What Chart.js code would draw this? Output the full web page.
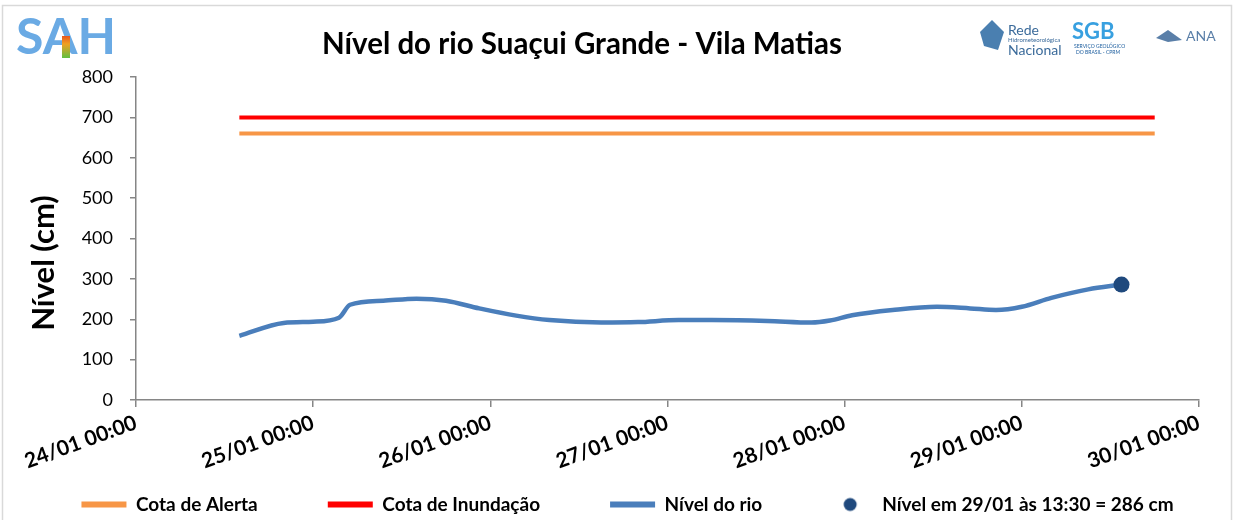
<!DOCTYPE html>
<html><head><meta charset="utf-8">
<script src="https://cdn.jsdelivr.net/npm/chart.js@4"></script>
<style>html,body{margin:0;padding:0;background:#fff}#wrap{width:1234px;height:520px;position:relative}</style>
</head><body><div id="wrap"><canvas id="c" width="1234" height="520"></canvas></div>
<script>
const FONT = "Lato, 'Liberation Sans', sans-serif";

// Hours counted from 24/01 00:00
const riverHours = [14, 20, 24, 27.5, 29, 33.5, 38, 42, 46.5, 51.5, 56, 63, 68, 73.5, 78, 85.5, 91.5, 94, 97, 102.5, 108.5, 113, 116.5, 120, 124, 129, 133.5];
const riverLevel = [159, 191, 194, 204, 236, 246, 251, 246, 227, 209, 198, 192, 193, 198, 198, 196, 192, 197, 210, 223, 231, 227, 223, 231, 253, 274, 286];
const thresholdHours = [14, 138];
const alertLevel = [660, 660];
const floodLevel = [700, 700];
const lastHour = [133.5];
const lastLevel = [286];
const dayTickLabels = ['24/01 00:00', '25/01 00:00', '26/01 00:00', '27/01 00:00', '28/01 00:00', '29/01 00:00', '30/01 00:00'];
const seriesNames = ['Cota de Alerta', 'Cota de Inundação', 'Nível do rio', 'Nível em 29/01 às 13:30 = 286 cm'];
const titleText = 'Nível do rio Suaçui Grande - Vila Matias';
const yTitleText = 'Nível (cm)';

const pts = (xs, ys) => xs.map((x, i) => ({x: x, y: ys[i]}));
const legendGap = [13, 13, 12, 0]; // trailing spaces after each legend text

const dotImg = document.createElement('canvas');
dotImg.width = 16; dotImg.height = 16;
{ const g = dotImg.getContext('2d'); g.fillStyle = '#1f497d'; g.beginPath(); g.arc(8, 8, 6.5, 0, Math.PI * 2); g.fill(); }

const decor = {
  id: 'decor',
  afterDraw(chart) {
    const ctx = chart.ctx;
    ctx.save();
    ctx.strokeStyle = '#d9d9d9'; ctx.lineWidth = 1.5;
    ctx.strokeRect(2.5, 5.5, 1229, 530);
    ctx.fillStyle = '#000';
    ctx.font = "bold 29.5px " + FONT;
    ctx.textAlign = 'center'; ctx.textBaseline = 'middle';
    ctx.fillText(titleText, 582, 44);
    ctx.save();
    ctx.translate(44, 263);
    ctx.rotate(-Math.PI / 2);
    ctx.font = "bold 31px " + FONT;
    ctx.fillText(yTitleText, 0, 0);
    ctx.restore();
    // SAH logo
    ctx.font = "bold 50px " + FONT;
    ctx.textAlign = 'left';
    ctx.fillStyle = '#6aaae4';
    ctx.fillText('SAH', 16, 38);
    const gr = ctx.createLinearGradient(0, 30, 0, 58);
    gr.addColorStop(0, '#e02020'); gr.addColorStop(0.5, '#f0a020'); gr.addColorStop(1, '#60c040');
    ctx.fillStyle = gr; ctx.fillRect(62, 36, 8, 22);
    // right logos
    ctx.fillStyle = '#4a7fb0';
    ctx.beginPath(); ctx.moveTo(980, 32); ctx.lineTo(992, 20); ctx.lineTo(1004, 32); ctx.lineTo(998, 50); ctx.lineTo(984, 46); ctx.closePath(); ctx.fill();
    ctx.fillStyle = '#3a6a9a';
    ctx.font = "14px " + FONT;
    ctx.fillText('Rede', 1008, 30);
    ctx.fillText('Nacional', 1008, 50);
    ctx.font = "6px " + FONT;
    ctx.fillText('Hidrometeorológica', 1008, 40);
    ctx.font = "bold 22px " + FONT;
    ctx.fillStyle = '#38a0e0';
    ctx.fillText('SGB', 1072, 32);
    ctx.font = "5px " + FONT;
    ctx.fillStyle = '#2060a0';
    ctx.fillText('SERVIÇO GEOLÓGICO', 1074, 46);
    ctx.fillText('DO BRASIL - CPRM', 1076, 52);
    ctx.font = "14px " + FONT;
    ctx.fillStyle = '#5a7fa8';
    ctx.fillText('ANA', 1186, 36);
    ctx.beginPath(); ctx.moveTo(1156, 38); ctx.lineTo(1168, 30); ctx.lineTo(1182, 40); ctx.lineTo(1168, 42); ctx.closePath(); ctx.fill();
    ctx.restore();
  }
};

new Chart(document.getElementById('c'), {
  type: 'line',
  data: {
    datasets: [
      {label: seriesNames[0], data: pts(thresholdHours, alertLevel), borderColor: '#f79646', backgroundColor: '#f79646', borderWidth: 4, pointRadius: 0, pointStyle: 'line', order: 3},
      {label: seriesNames[1], data: pts(thresholdHours, floodLevel), borderColor: '#ff0000', backgroundColor: '#ff0000', borderWidth: 4, pointRadius: 0, pointStyle: 'line', order: 2},
      {label: seriesNames[2], data: pts(riverHours, riverLevel), borderColor: '#4a7ebb', backgroundColor: '#4a7ebb', borderWidth: 4.5, pointRadius: 0, pointStyle: 'line', cubicInterpolationMode: 'monotone', order: 1},
      {label: seriesNames[3], data: pts(lastHour, lastLevel), borderColor: '#1f497d', backgroundColor: '#1f497d', showLine: false, pointRadius: 8, pointHoverRadius: 8, pointBorderWidth: 0, pointStyle: 'circle', order: 0}
    ]
  },
  options: {
    responsive: false,
    animation: false,
    events: [],
    layout: {padding: {top: 77, left: 56, right: 35, bottom: -4}},
    scales: {
      x: {
        type: 'linear', min: 0, max: 144,
        grid: {display: true, drawOnChartArea: false, drawTicks: true, tickLength: 7, color: '#868686', lineWidth: 1.5},
        border: {display: true, color: '#868686', width: 1.5},
        ticks: {stepSize: 24, minRotation: 20, maxRotation: 20, autoSkip: false, padding: 3, color: '#000',
          font: {family: FONT, size: 21, weight: 'bold'},
          callback: (v) => dayTickLabels[Math.round(v / 24)]}
      },
      y: {
        min: 0, max: 800,
        afterFit: (scale) => { scale.width = 80; },
        grid: {display: true, drawOnChartArea: false, drawTicks: true, tickLength: 6, color: '#868686', lineWidth: 1.5},
        border: {display: true, color: '#868686', width: 1.5},
        ticks: {stepSize: 100, padding: 17, color: '#000', font: {family: FONT, size: 18}}
      }
    },
    plugins: {
      title: {display: false},
      tooltip: {enabled: false},
      legend: {
        position: 'bottom',
        title: {display: true, text: ' ', font: {size: 5}, padding: 1},
        labels: {
          usePointStyle: true, pointStyleWidth: 45, boxHeight: 14, padding: 10,
          color: '#000', font: {family: FONT, size: 19, weight: 'bold'},
          generateLabels(chart) {
            return chart.data.datasets.map((ds, i) => ({
              text: ds.label + ' '.repeat(legendGap[i]), datasetIndex: i,
              fillStyle: ds.backgroundColor, strokeStyle: ds.borderColor, fontColor: '#000',
              lineWidth: i === 3 ? 0 : 6, pointStyle: i === 3 ? dotImg : ds.pointStyle, hidden: false
            }));
          }
        }
      }
    }
  },
  plugins: [decor]
});
</script>
</body></html>
